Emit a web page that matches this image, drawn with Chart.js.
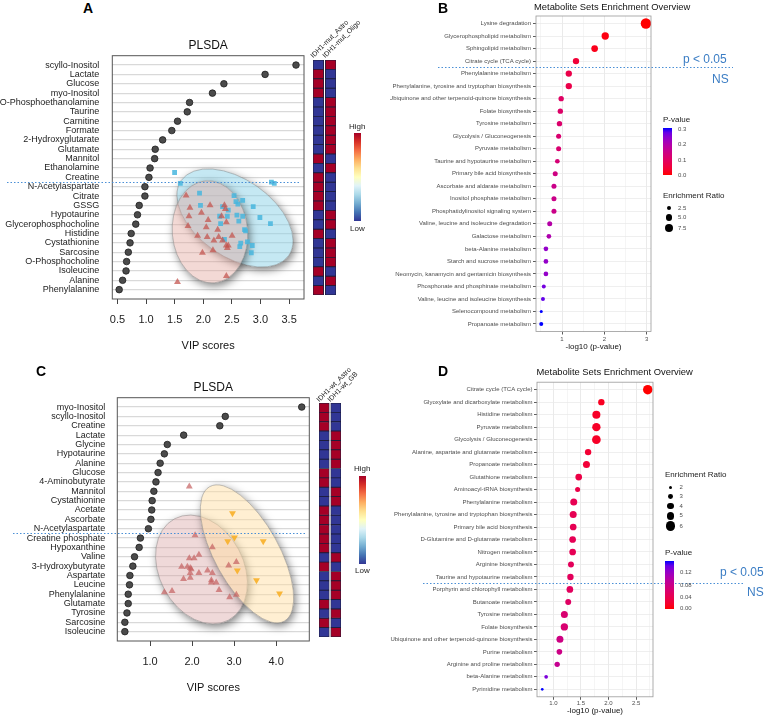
<!DOCTYPE html>
<html>
<head>
<meta charset="utf-8">
<script src="https://cdn.jsdelivr.net/npm/chart.js@4.4.1/dist/chart.umd.min.js"></script>
<style>
  body { margin: 0; width: 764px; height: 716px; position: relative; overflow: hidden; background: #fff;
         font-family: 'Liberation Sans', Arial, Helvetica, sans-serif; color: #222; }
  canvas, .t, .bar, .dot { position: absolute; }
  .t { white-space: nowrap; line-height: 1; }
</style>
</head>
<body>
<canvas id="cA" width="310" height="325" style="left:0;top:30px"></canvas>
<canvas id="hA" width="23" height="235" style="left:313px;top:60px"></canvas>
<canvas id="cB" width="374" height="360" style="left:390px;top:0"></canvas>
<canvas id="cC" width="315" height="322" style="left:0;top:375px"></canvas>
<canvas id="hC" width="22" height="234" style="left:319px;top:403px"></canvas>
<canvas id="cD" width="374" height="356" style="left:390px;top:360px"></canvas>
<script>
const FONT = "'Liberation Sans', Arial, Helvetica, sans-serif";
Chart.defaults.font.family = FONT;

// ---------- A : PLSDA IDH1-mut Astro vs Oligo
const metabA = ['scyllo-Inositol', 'Lactate', 'Glucose', 'myo-Inositol', 'O-Phosphoethanolamine', 'Taurine',
  'Carnitine', 'Formate', '2-Hydroxyglutarate', 'Glutamate', 'Mannitol', 'Ethanolamine', 'Creatine',
  'N-Acetylaspartate', 'Citrate', 'GSSG', 'Hypotaurine', 'Glycerophosphocholine', 'Histidine',
  'Cystathionine', 'Sarcosine', 'O-Phosphocholine', 'Isoleucine', 'Alanine', 'Phenylalanine'];
const vipA = [3.62, 3.08, 2.36, 2.16, 1.76, 1.72, 1.55, 1.45, 1.29, 1.16, 1.15, 1.07, 1.05,
  0.98, 0.98, 0.88, 0.85, 0.82, 0.74, 0.72, 0.69, 0.66, 0.65, 0.59, 0.53];
const vipTicksA = [0.5, 1.0, 1.5, 2.0, 2.5, 3.0, 3.5];
const astroHeatA = [-1, 1, 1, 1, -1, -1, -1, -1, -1, -1, 1, -1, 1, 1, 1, 1, -1, -1, 1, -1, -1, -1, 1, -1, 1];
const oligoHeatA = [1, -1, -1, -1, 1, 1, 1, 1, 1, 1, -1, 1, -1, -1, -1, -1, 1, 1, -1, 1, 1, 1, -1, 1, -1];
// score plot (t1 / t2) shown behind the VIP dots
const astroT1A = [-2.3, -1.9, -2.0, -0.7, 0.2, 1.7, 1.8, 1.4, 0.0, 1.9, -2.1, -0.2, 1.0, -1.1, -0.1, 1.1, 2.5,
  0.6, 1.5, 1.9, 2.1, 2.0, 0.5, -0.6, 1.9, -3.2];
const astroT2A = [-1.5, -2.5, -3.2, -2.9, -2.3, -2.3, -2.6, -3.2, -3.5, -3.7, -4.0, -4.1, -4.3, -4.8, -4.9, -4.9, -4.8,
  -5.2, -5.2, -5.6, -5.6, -5.8, -6.0, -6.2, -8.1, -8.6];
const oligoT1A = [-3.5, -2.9, -0.9, -0.8, 1.5, 2.7, 2.9, 3.1, 3.6, 4.7, 2.1, 1.2, 2.0, 3.0, 3.6, 5.4, 6.5, 1.3, 3.2,
  3.8, 3.9, 1.7, 3.4, 4.1, 4.6, 3.3, 4.5, 6.6, 6.9];
const oligoT2A = [0.4, -0.5, -1.3, -2.3, -2.4, -1.5, -2.0, -2.2, -1.9, -2.4, -2.7, -3.2, -3.2, -3.1, -3.2, -3.3, -3.8,
  -3.8, -3.6, -4.3, -4.4, -5.1, -5.4, -5.3, -5.6, -5.7, -6.2, -0.4, -0.5];
const astroEllA = { cx: 0.19, cy: -4.48, a: 3.93, b: 5.34, angle: -5 };
const oligoEllA = { cx: 2.80, cy: -3.34, a: 6.84, b: 4.02, angle: 35 };

// ---------- B : enrichment, IDH1-mut
const setsB = ['Lysine degradation', 'Glycerophospholipid metabolism', 'Sphingolipid metabolism',
  'Citrate cycle (TCA cycle)', 'Phenylalanine metabolism', 'Phenylalanine, tyrosine and tryptophan biosynthesis',
  'Ubiquinone and other terpenoid-quinone biosynthesis', 'Folate biosynthesis', 'Tyrosine metabolism',
  'Glycolysis / Gluconeogenesis', 'Pyruvate metabolism', 'Taurine and hypotaurine metabolism',
  'Primary bile acid biosynthesis', 'Ascorbate and aldarate metabolism', 'Inositol phosphate metabolism',
  'Phosphatidylinositol signaling system', 'Valine, leucine and isoleucine degradation', 'Galactose metabolism',
  'beta-Alanine metabolism', 'Starch and sucrose metabolism', 'Neomycin, kanamycin and gentamicin biosynthesis',
  'Phosphonate and phosphinate metabolism', 'Valine, leucine and isoleucine biosynthesis',
  'Selenocompound metabolism', 'Propanoate metabolism'];
const logpB = [2.98, 2.02, 1.77, 1.33, 1.16, 1.16, 0.98, 0.96, 0.94, 0.92, 0.92, 0.89, 0.84, 0.81, 0.81, 0.81,
  0.71, 0.69, 0.62, 0.62, 0.62, 0.57, 0.55, 0.51, 0.51];
const erB = [12.9, 6.4, 5.3, 4.8, 4.8, 4.8, 3.4, 3.4, 3.4, 3.0, 3.0, 2.6, 3.0, 3.0, 3.0, 3.0, 3.0, 2.6,
  2.6, 2.6, 2.6, 1.9, 1.9, 1.1, 1.9];
const gridB = [0.5, 1, 1.5, 2, 2.5, 3];
const erLegendB = [2.5, 5.0, 7.5];
const pLegendB = [0.3, 0.2, 0.1, 0.0];

// ---------- C : PLSDA IDH1-wt Astro vs GB
const metabC = ['myo-Inositol', 'scyllo-Inositol', 'Creatine', 'Lactate', 'Glycine', 'Hypotaurine', 'Alanine',
  'Glucose', '4-Aminobutyrate', 'Mannitol', 'Cystathionine', 'Acetate', 'Ascorbate', 'N-Acetylaspartate',
  'Creatine phosphate', 'Hypoxanthine', 'Valine', '3-Hydroxybutyrate', 'Aspartate', 'Leucine', 'Phenylalanine',
  'Glutamate', 'Tyrosine', 'Sarcosine', 'Isoleucine'];
const vipC = [4.61, 2.79, 2.66, 1.80, 1.41, 1.34, 1.24, 1.19, 1.14, 1.09, 1.05, 1.04, 1.02, 0.96,
  0.77, 0.74, 0.63, 0.59, 0.52, 0.51, 0.48, 0.48, 0.45, 0.40, 0.40];
const vipTicksC = [1.0, 2.0, 3.0, 4.0];
const astroHeatC = [1, 1, 1, -1, -1, -1, -1, 1, 1, -1, -1, 1, 1, 1, 1, 1, -1, 1, -1, -1, -1, 1, -1, 1, -1];
const gbHeatC = [-1, -1, -1, 1, 1, 1, 1, -1, -1, 1, 1, -1, -1, -1, -1, -1, 1, -1, 1, 1, 1, -1, 1, -1, 1];
const astroT1C = [-2.5, -1.9, -0.1, -2.5, -2.0, -1.5, -3.3, -2.7, -2.4, -2.3, -2.4, -1.5, -0.6, -0.1, -2.4, -3.1,
  -0.2, -0.2, 0.3, 0.6, 1.6, 2.4, -5.1, -4.3, 1.7, 2.4];
const astroT2C = [2.7, -1.3, -2.3, -3.2, -3.2, -2.9, -3.9, -3.9, -4.0, -4.1, -4.4, -4.4, -4.2, -4.4, -4.8, -4.9,
  -5.0, -5.2, -5.2, -5.8, -3.8, -3.5, -6.0, -5.9, -6.4, -6.2];
const gbT1C = [2.0, 1.5, 2.2, 5.2, 2.5, 4.5, 6.9];
const gbT2C = [0.5, -1.8, -1.5, -1.8, -4.2, -5.0, -6.1];
const astroEllC = { cx: -1.23, cy: -4.12, a: 5.98, b: 4.39, angle: 62 };
const gbEllC = { cx: 3.51, cy: -2.84, a: 8.01, b: 3.35, angle: 61 };

// ---------- D : enrichment, IDH1-wt
const setsD = ['Citrate cycle (TCA cycle)', 'Glyoxylate and dicarboxylate metabolism', 'Histidine metabolism',
  'Pyruvate metabolism', 'Glycolysis / Gluconeogenesis', 'Alanine, aspartate and glutamate metabolism',
  'Propanoate metabolism', 'Glutathione metabolism', 'Aminoacyl-tRNA biosynthesis', 'Phenylalanine metabolism',
  'Phenylalanine, tyrosine and tryptophan biosynthesis', 'Primary bile acid biosynthesis',
  'D-Glutamine and D-glutamate metabolism', 'Nitrogen metabolism', 'Arginine biosynthesis',
  'Taurine and hypotaurine metabolism', 'Porphyrin and chlorophyll metabolism', 'Butanoate metabolism',
  'Tyrosine metabolism', 'Folate biosynthesis', 'Ubiquinone and other terpenoid-quinone biosynthesis',
  'Purine metabolism', 'Arginine and proline metabolism', 'beta-Alanine metabolism', 'Pyrimidine metabolism'];
const logpD = [2.71, 1.87, 1.78, 1.78, 1.78, 1.63, 1.60, 1.46, 1.44, 1.37, 1.36, 1.36, 1.35, 1.35, 1.32, 1.31,
  1.30, 1.27, 1.20, 1.20, 1.12, 1.11, 1.07, 0.87, 0.80];
const erD = [6.0, 4.0, 5.1, 5.3, 5.5, 4.0, 4.4, 4.2, 3.1, 4.4, 4.4, 4.2, 4.2, 4.2, 3.7, 4.0, 4.2, 3.7, 4.4, 4.6,
  4.4, 3.5, 3.3, 2.2, 1.5];
const gridD = [0.75, 1.0, 1.25, 1.5, 1.75, 2.0, 2.25, 2.5, 2.75];
const erLegendD = [2, 3, 4, 5, 6];
const pLegendD = [0.12, 0.08, 0.04, 0.00];

// red -> blue through Lab, like ggplot's gradient
const labRed = [53.24, 80.09, 67.20], labBlue = [32.30, 79.19, -107.86];
function pColor(t) {
  const [L, a, b] = labRed.map((v, i) => v + (labBlue[i] - v) * t);
  let y = (L + 16) / 116, x = a / 500 + y, z = y - b / 200;
  const f = v => v ** 3 > 0.008856 ? v ** 3 : (v - 16 / 116) / 7.787;
  x = 0.95047 * f(x); y = f(y); z = 1.08883 * f(z);
  const lin = [x * 3.2406 - y * 1.5372 - z * 0.4986, -x * 0.9689 + y * 1.8758 + z * 0.0415, x * 0.0557 - y * 0.2040 + z * 1.0570];
  const c = v => Math.round(255 * Math.min(1, Math.max(0, v > 0.0031308 ? 1.055 * v ** (1 / 2.4) - 0.055 : 12.92 * v)));
  return 'rgb(' + lin.map(c).join(',') + ')';
}
const sizeB = v => 1.45 * Math.sqrt(v);
const sizeD = v => 0.2 + 0.75 * v;

// ---------- small plugins
function frame(color, width) {
  return { id: 'frame', afterDatasetsDraw(chart) {
    const a = chart.chartArea, ctx = chart.ctx;
    ctx.save(); ctx.strokeStyle = color; ctx.lineWidth = width;
    ctx.strokeRect(a.left, a.top, a.right - a.left, a.bottom - a.top); ctx.restore();
  }};
}
function cutLine(at, from, to) {
  return { id: 'cutLine', afterDraw(chart) {
    const ctx = chart.ctx, y = Math.round(chart.scales.y.getPixelForValue(at)) + 0.5;
    ctx.save(); ctx.strokeStyle = '#4a8fd6'; ctx.lineWidth = 1.2; ctx.setLineDash([1.5, 2]);
    ctx.beginPath(); ctx.moveTo(from, y); ctx.lineTo(to, y); ctx.stroke(); ctx.restore();
  }};
}
// confidence ellipses of the score plot; the drop shadow is kept outside each ellipse
function ellipses(items) {
  return { id: 'ellipses', beforeDatasetsDraw(chart) {
    const { ctx, chartArea: a, scales: { ix, iy } } = chart;
    const unit = Math.abs(ix.getPixelForValue(1) - ix.getPixelForValue(0));
    ctx.save();
    ctx.beginPath(); ctx.rect(a.left, a.top, a.right - a.left, a.bottom - a.top); ctx.clip();
    items.forEach(it => {
      const e = it.ell;
      const ep = new Path2D();
      ep.ellipse(ix.getPixelForValue(e.cx), iy.getPixelForValue(e.cy), e.a * unit, e.b * unit,
        e.angle * Math.PI / 180, 0, 2 * Math.PI);
      ctx.save();
      const outside = new Path2D();
      outside.rect(0, 0, chart.width, chart.height);
      outside.addPath(ep);
      ctx.clip(outside, 'evenodd');
      ctx.shadowColor = 'rgba(0,0,0,0.5)'; ctx.shadowBlur = 8; ctx.shadowOffsetX = 2; ctx.shadowOffsetY = 3;
      ctx.fillStyle = '#fff'; ctx.fill(ep);
      ctx.restore();
      ctx.fillStyle = it.fill; ctx.fill(ep);
      ctx.strokeStyle = 'rgba(120,120,120,0.45)'; ctx.lineWidth = 1; ctx.stroke(ep);
    });
    ctx.restore();
  }};
}

// ---------- VIP dot chart with the score plot inside
function plsdaChart(id, o) {
  return new Chart(document.getElementById(id), {
    type: 'scatter',
    data: { datasets: [
      { data: o.vip.map((v, i) => ({ x: v, y: i + 1 })), pointRadius: 3.3, backgroundColor: '#4b4b4b',
        borderColor: '#1f1f1f', borderWidth: 0.8 },
      ...o.groups.map(g => ({ data: g.t1.map((v, i) => ({ x: v, y: g.t2[i] })), xAxisID: 'ix', yAxisID: 'iy',
        pointStyle: g.style, rotation: g.rot || 0, pointRadius: g.r, backgroundColor: g.color, borderWidth: 0 }))
    ]},
    options: {
      responsive: false, animation: false, events: [],
      layout: { padding: { right: o.padRight } },
      scales: {
        x: { type: 'linear', min: o.xmin, max: o.xmax,
          afterBuildTicks: ax => { ax.ticks = o.ticks.map(v => ({ value: v })); },
          afterFit: ax => { ax.height = 56; },
          ticks: { callback: v => v.toFixed(1), color: '#222', font: { size: 11 }, padding: 9, maxRotation: 0, autoSkip: false },
          grid: { drawOnChartArea: false, tickLength: 5, color: '#444' },
          border: { display: false },
          title: { display: true, text: 'VIP scores', color: '#111', font: { size: 11 }, padding: { top: 0, bottom: o.titleBottom } } },
        y: { type: 'linear', min: 0, max: 26, reverse: true,
          afterBuildTicks: ax => { ax.ticks = o.names.map((n, i) => ({ value: i + 1 })); },
          afterFit: ax => { ax.width = o.yWidth; },
          ticks: { callback: v => o.names[v - 1], color: '#222', font: { size: 9 }, padding: o.labelPad, autoSkip: false },
          grid: { color: '#d9d9d9', lineWidth: 1.2, drawTicks: false },
          border: { display: false } },
        ix: { type: 'linear', axis: 'x', position: 'bottom', display: false, min: -10, max: 10 },
        iy: { type: 'linear', axis: 'y', position: 'left', display: false, min: -10, max: 10 }
      },
      plugins: {
        legend: { display: false }, tooltip: { enabled: false },
        title: { display: true, text: 'PLSDA', fullSize: false, color: '#111', font: { size: 12, weight: 'normal' },
          padding: { top: o.titleTop, bottom: 3.3 } }
      }
    },
    plugins: [ellipses(o.ells), frame('#555', 1), cutLine(o.cutAt, o.cutFrom, o.cutTo)]
  });
}

function heatChart(id, names, left, right) {
  const col = v => v > 0 ? '#a50026' : '#313695';
  const bar = { grouped: false, barPercentage: 1, categoryPercentage: 1, borderWidth: 0.8,
    borderColor: '#1d1d3a', borderSkipped: false };
  return new Chart(document.getElementById(id), {
    type: 'bar',
    data: { labels: names, datasets: [
      Object.assign({ data: names.map(() => [0, 1]), backgroundColor: left.map(col) }, bar),
      Object.assign({ data: names.map(() => [1.15, 2.15]), backgroundColor: right.map(col) }, bar)
    ]},
    options: {
      indexAxis: 'y', responsive: false, animation: false, events: [],
      scales: { x: { display: false, min: 0, max: 2.15 }, y: { display: false } },
      plugins: { legend: { display: false }, tooltip: { enabled: false } }
    }
  });
}

function mseaChart(id, o) {
  const p = o.logp.map(v => Math.pow(10, -v));
  const pmin = Math.min(...p), pmax = Math.max(...p);
  const major = c => c.tick && o.isMajor(c.tick.value);
  new Chart(document.getElementById(id), {
    type: 'scatter',
    data: { datasets: [{
      data: o.logp.map((v, i) => ({ x: v, y: i + 1 })),
      pointRadius: o.er.map(o.size),
      backgroundColor: p.map(v => pColor((v - pmin) / (pmax - pmin))),
      borderWidth: 0
    }]},
    options: {
      responsive: false, animation: false, events: [],
      layout: { padding: o.pad },
      scales: {
        x: { type: 'linear', min: o.xmin, max: o.xmax,
          afterBuildTicks: ax => { ax.ticks = o.grid.map(v => ({ value: v })); },
          afterFit: ax => { ax.height = o.xHeight; },
          ticks: { autoSkip: false, maxRotation: 0, padding: o.tickPad, color: '#4d4d4d', font: { size: 6 },
            callback: v => o.isMajor(v) ? o.fmt(v) : '' },
          grid: { color: c => major(c) ? '#e4e4e4' : '#f3f3f3', lineWidth: 0.8, tickLength: 3,
            tickColor: c => major(c) ? '#333' : 'rgba(0,0,0,0)' },
          border: { display: false },
          title: { display: true, text: '-log10 (p-value)', color: '#111', font: { size: 8 },
            padding: { top: 0, bottom: o.xTitleBottom } } },
        y: { type: 'linear', min: 0.4, max: 25.6, reverse: true,
          afterBuildTicks: ax => { ax.ticks = o.sets.map((s, i) => ({ value: i + 1 })); },
          afterFit: ax => { ax.width = o.yWidth; },
          ticks: { autoSkip: false, padding: o.labelPad, color: '#4d4d4d', font: { size: 6 }, callback: v => o.sets[v - 1] },
          grid: { color: '#ebebeb', lineWidth: 0.8, tickLength: 3, tickColor: '#333' },
          border: { display: false } }
      },
      plugins: { legend: { display: false }, tooltip: { enabled: false } }
    },
    plugins: [frame('#9a9a9a', 0.8), cutLine(o.cutAt, o.cutFrom, o.cutTo)]
  });
  return { pmin, pmax };
}

// ---------- draw
plsdaChart('cA', { names: metabA, vip: vipA, ticks: vipTicksA, xmin: 0.41, xmax: 3.76,
  padRight: 6, yWidth: 112.3, labelPad: 13, titleTop: 8, titleBottom: 2,
  cutAt: 13.5, cutFrom: 7, cutTo: 300,
  ells: [{ ell: oligoEllA, fill: 'rgba(140,210,232,0.5)' }, { ell: astroEllA, fill: 'rgba(226,160,150,0.4)' }],
  groups: [
    { t1: astroT1A, t2: astroT2A, style: 'triangle', r: 4, color: 'rgba(196,86,80,0.75)' },
    { t1: oligoT1A, t2: oligoT2A, style: 'rect', r: 3.4, color: 'rgba(72,182,222,0.85)' }
  ] });
heatChart('hA', metabA, astroHeatA, oligoHeatA);

plsdaChart('cC', { names: metabC, vip: vipC, ticks: vipTicksC, xmin: 0.22, xmax: 4.79,
  padRight: 5.7, yWidth: 117.3, labelPad: 12, titleTop: 5, titleBottom: 2.4,
  cutAt: 14.5, cutFrom: 13, cutTo: 307,
  ells: [{ ell: astroEllC, fill: 'rgba(214,160,160,0.4)' }, { ell: gbEllC, fill: 'rgba(255,222,160,0.48)' }],
  groups: [
    { t1: gbT1C, t2: gbT2C, style: 'triangle', rot: 180, r: 4, color: 'rgba(248,176,40,0.9)' },
    { t1: astroT1C, t2: astroT2C, style: 'triangle', r: 4, color: 'rgba(196,96,96,0.7)' }
  ] });
heatChart('hC', metabC, astroHeatC, gbHeatC);

const rangeB = mseaChart('cB', { sets: setsB, logp: logpB, er: erB, size: sizeB,
  xmin: 0.386, xmax: 3.10, grid: gridB, isMajor: v => Number.isInteger(v), fmt: v => String(v),
  pad: { top: 16, right: 113, bottom: 6.5 }, yWidth: 146, labelPad: 2, xHeight: 22, tickPad: 1, xTitleBottom: 2,
  cutAt: 4.5, cutFrom: 48, cutTo: 343 });

const rangeD = mseaChart('cD', { sets: setsD, logp: logpD, er: erD, size: sizeD,
  xmin: 0.7045, xmax: 2.8055, grid: gridD, isMajor: v => Math.abs(v * 2 - Math.round(v * 2)) < 1e-6,
  fmt: v => v.toFixed(1),
  pad: { top: 22.2, right: 111, bottom: 0 }, yWidth: 147, labelPad: 1.5, xHeight: 19.2, tickPad: 0, xTitleBottom: 0.5,
  cutAt: 16.5, cutFrom: 33, cutTo: 353 });

// ---------- text, legends
function txt(text, x, yc, size, css) {
  const d = document.createElement('div');
  d.className = 't'; d.textContent = text;
  d.style.left = x + 'px'; d.style.top = (yc - size * 0.55) + 'px'; d.style.fontSize = size + 'px';
  if (css) Object.assign(d.style, css);
  document.body.appendChild(d);
  return d;
}
function rotTxt(text, x, yBase, size) {
  const d = txt(text, x, yBase - size + size * 0.55, size);
  d.style.transformOrigin = '0 100%';
  d.style.transform = 'rotate(-45deg)';
}
function box(cls, x, y, w, h, css) {
  const d = document.createElement('div');
  d.className = cls;
  Object.assign(d.style, { left: x + 'px', top: y + 'px', width: w + 'px', height: h + 'px' }, css || {});
  document.body.appendChild(d);
}
const bold = { fontWeight: 'bold', color: '#000' };
txt('A', 83, 9, 14, bold);
txt('B', 438, 9, 14, bold);
txt('C', 36, 372, 14, bold);
txt('D', 438, 372, 14, bold);

txt('Metabolite Sets Enrichment Overview', 534, 7.5, 9.4, { color: '#111' });
txt('Metabolite Sets Enrichment Overview', 536.5, 372.5, 9.4, { color: '#111' });

rotTxt('IDH1-mut_Astro', 313.5, 59, 7);
rotTxt('IDH1-mut_Oligo', 325.5, 59, 7);
rotTxt('IDH1-wt_Astro', 319.5, 403, 7);
rotTxt('IDH1-wt_GB', 331, 403, 7);

const rdylbu = 'linear-gradient(to bottom, #a50026, #d73027, #f46d43, #fdae61, #fee090, #ffffbf, #e0f3f8, #abd9e9, #74add1, #4575b4, #313695)';
txt('High', 349, 127, 8);
box('bar', 354, 133, 7, 88, { background: rdylbu });
txt('Low', 350, 229, 8);
txt('High', 354, 469, 8);
box('bar', 359.3, 476, 7, 88, { background: rdylbu });
txt('Low', 355, 571, 8);

const pGrad = 'linear-gradient(to top, ' + Array.from({ length: 11 }, (_, i) => pColor(i / 10)).join(', ') + ')';
function pLegend(x, yTitle, top, h, ticks, range, digits) {
  txt('P-value', x, yTitle, 8);
  box('bar', x, top, 9, h, { background: pGrad });
  ticks.forEach(v => {
    const y = top + h - (v - range.pmin) / (range.pmax - range.pmin) * h;
    txt(v.toFixed(digits), x + 15, Math.min(y, top + h), 6, { color: '#4d4d4d' });
  });
}
function sizeLegend(x, yTitle, cx, ys, vals, size, fmt) {
  txt('Enrichment Ratio', x, yTitle, 8);
  vals.forEach((v, i) => {
    const r = size(v);
    box('dot', cx - r, ys[i] - r, 2 * r, 2 * r, { borderRadius: '50%', background: '#000' });
    txt(fmt(v), cx + 9, ys[i], 6, { color: '#4d4d4d' });
  });
}
pLegend(663, 120, 128, 47, pLegendB, rangeB, 1);
sizeLegend(663, 196, 669, [208, 217.5, 228], erLegendB, sizeB, v => v.toFixed(1));
sizeLegend(665, 475, 670.5, [487.3, 496.7, 506, 515.7, 526], erLegendD, sizeD, v => String(v));
pLegend(665, 553, 561, 47.5, pLegendD, rangeD, 2);

const sig = { color: '#3b7dc4' };
txt('p < 0.05', 683, 60, 12, sig);
txt('NS', 712, 80, 12, sig);
txt('p < 0.05', 720, 573, 12, sig);
txt('NS', 747, 593, 12, sig);
</script>
</body>
</html>
